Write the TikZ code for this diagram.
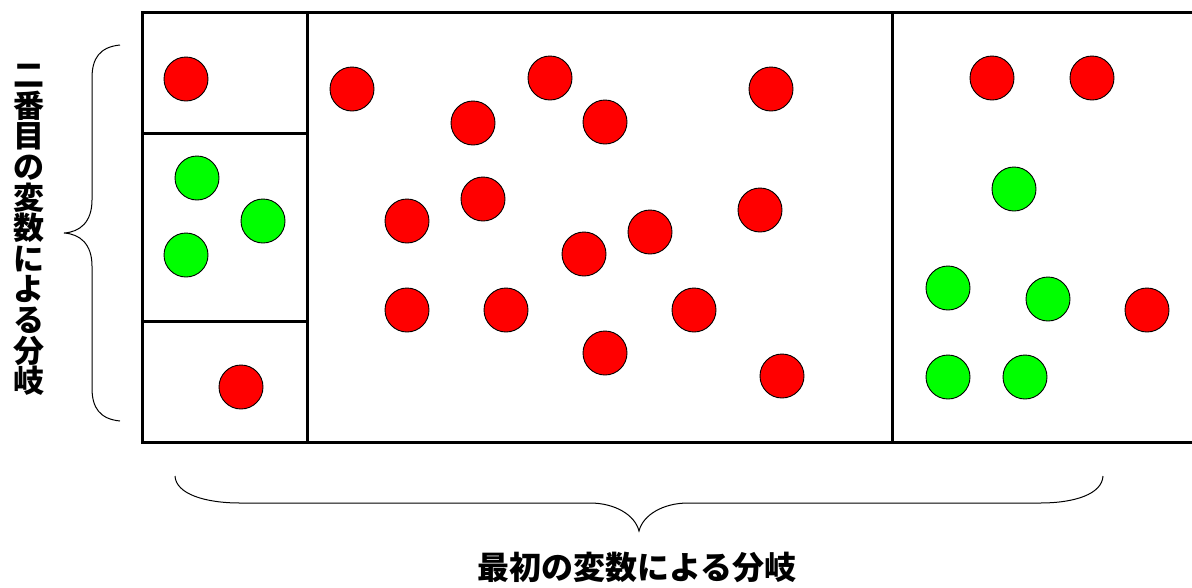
\documentclass[tikz,border=0pt]{standalone}
\usepackage{fontspec}
\newfontfamily\jp{Noto Sans CJK JP}
\begin{document}
\begin{tikzpicture}[x=1pt,y=-1pt,
  ball/.style={circle,draw=black,line width=0.9pt,minimum size=44pt,inner sep=0pt},
  rb/.style={ball,fill=red},
  gb/.style={ball,fill=green},
  frame/.style={draw=black,line width=3pt},
  brace/.style={draw=black,line width=1pt},
  lbl/.style={font=\jp\bfseries\fontsize{31}{30.6}\selectfont,inner sep=0pt},
  blbl/.style={font=\jp\bfseries\fontsize{32}{32}\selectfont,inner sep=0pt}]
\useasboundingbox (0,0) rectangle (1192,587);
% frame
\coordinate (tl) at (142,12);
\coordinate (br) at (1200,442);
\draw[frame] (1200,12) -- (tl) |- (br);
\coordinate (v1t) at (307,12); \coordinate (v1b) at (307,442);
\coordinate (v2t) at (892,12); \coordinate (v2b) at (892,442);
\draw[frame] (v1t) -- (v1b);
\draw[frame] (v2t) -- (v2b);
\coordinate (h1l) at (142,133); \coordinate (h1r) at (307,133);
\coordinate (h2l) at (142,321); \coordinate (h2r) at (307,321);
\draw[frame] (h1l) -- (h1r);
\draw[frame] (h2l) -- (h2r);
% left column
\node[rb] (a1) at (186,79) {};
\node[gb] (a2) at (197,178) {};
\node[gb] (a3) at (263,221) {};
\node[gb] (a4) at (186,255) {};
\node[rb] (a5) at (241,387) {};
% middle
\node[rb] (b1) at (352,89) {};
\node[rb] (b2) at (550,78) {};
\node[rb] (b3) at (473,123) {};
\node[rb] (b4) at (605,122) {};
\node[rb] (b5) at (771,89) {};
\node[rb] (b6) at (407,221) {};
\node[rb] (b7) at (483,199) {};
\node[rb] (b8) at (760,210) {};
\node[rb] (b9) at (650,232) {};
\node[rb] (b10) at (584,254) {};
\node[rb] (b11) at (407,310) {};
\node[rb] (b12) at (506,310) {};
\node[rb] (b13) at (694,310) {};
\node[rb] (b14) at (605,353) {};
\node[rb] (b15) at (782,376) {};
% right
\node[rb] (c1) at (992,78) {};
\node[rb] (c2) at (1092,78) {};
\node[gb] (c3) at (1014,189) {};
\node[gb] (c4) at (948,288) {};
\node[gb] (c5) at (1048,299) {};
\node[rb] (c6) at (1147,310) {};
\node[gb] (c7) at (948,377) {};
\node[gb] (c8) at (1025,377) {};
% left brace
\draw[brace] (120,45) .. controls (100,47) and (92,58) .. (92,78)
  -- (92,200) .. controls (92,222) and (80,232) .. (64,233)
  .. controls (80,234) and (92,244) .. (92,266)
  -- (92,388) .. controls (92,408) and (100,419) .. (120,421);
% bottom brace
\draw[brace] (175,476) .. controls (176,494) and (205,503) .. (240,503)
  -- (590,503) .. controls (615,503) and (635,515) .. (639,531)
  .. controls (643,515) and (663,503) .. (688,503)
  -- (1040,503) .. controls (1075,503) and (1102,494) .. (1103,476);
% labels
\node[lbl,align=center] (lt) at (29,230) {二\\番\\目\\の\\変\\数\\に\\よ\\る\\分\\岐};
\node[blbl] (bt) at (637,567) {最初の変数による分岐};
\end{tikzpicture}
\end{document}
